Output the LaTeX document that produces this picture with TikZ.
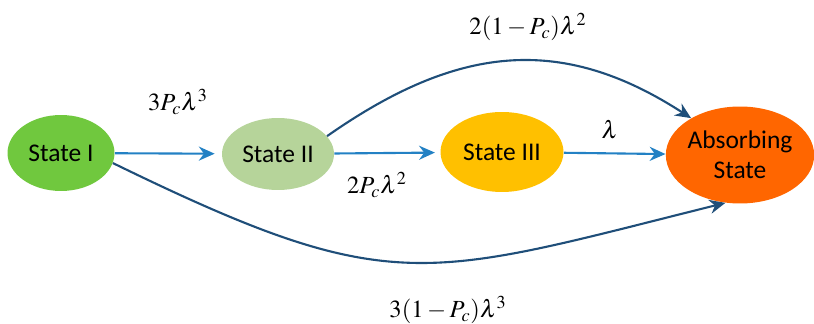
\documentclass[tikz,border=0pt]{standalone}
\usepackage{amsmath}
\usepackage{mathptmx}
\usepackage[no-math]{fontspec}
\setmainfont{Carlito}
\usepackage{tikz}
\usetikzlibrary{shapes.geometric,arrows.meta}
\definecolor{stategreen}{HTML}{70C83E}
\definecolor{statelight}{HTML}{B6D49A}
\definecolor{stateyellow}{HTML}{FFC000}
\definecolor{stateorange}{HTML}{FF6600}
\definecolor{arrowblue}{HTML}{2381C4}
\definecolor{curvenavy}{HTML}{1F4E79}

\begin{document}
\begin{tikzpicture}[x=0.02cm,y=0.02cm,
  state/.style={ellipse,inner sep=0pt,font=\fontsize{14.5}{17}\selectfont,align=center},
  flow/.style={arrowblue,line width=1.2pt,-{Stealth[length=9pt,width=8pt]}},
  jump/.style={curvenavy,line width=1.2pt,-{Stealth[length=9pt,width=8pt]}},
  rate/.style={font=\fontsize{14}{16}\selectfont}]
\useasboundingbox (0,0) rectangle (814,324);
\node[state,fill=stategreen,minimum width=2.14cm,minimum height=1.52cm] (s1) at (61,171) {State I};
\node[state,fill=statelight,minimum width=2.24cm,minimum height=1.44cm] (s2) at (278,170) {State II};
\node[state,fill=stateyellow,minimum width=2.46cm,minimum height=1.6cm] (s3) at (502,172) {State III};
\node[state,fill=stateorange,minimum width=2.9cm,minimum height=1.94cm] (ab) at (740,169) {Absorbing\\State};
\draw[flow,shorten >=4pt] (s1) -- (s2);
\draw[flow,shorten >=3pt] (s2) -- (s3);
\draw[flow] (s3) -- (ab);
\draw[jump] (s2.20) to[out=35,in=147,looseness=1.1] (ab.143);
\draw[jump] (s1.-11) to[out=-26,in=194,looseness=1.3] (ab.-107);
\node[rate] (r12) at (178,222) {$3P_c\lambda^3$};
\node[rate] (r23) at (377,139) {$2P_c\lambda^2$};
\node[rate] (r3a) at (610,194) {$\lambda$};
\node[rate] (r2a) at (528,297) {$2(1-P_c)\lambda^2$};
\node[rate] (r1a) at (448,14) {$3(1-P_c)\lambda^3$};
\end{tikzpicture}
\end{document}
